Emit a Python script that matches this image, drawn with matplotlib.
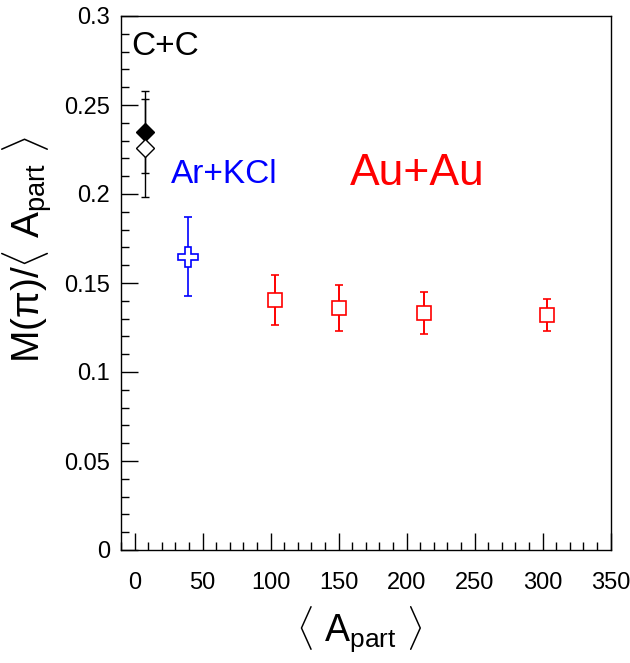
import matplotlib
matplotlib.use("Agg")
import matplotlib.pyplot as plt
from matplotlib.ticker import MultipleLocator, FixedLocator

plt.rcParams['font.family'] = ['Liberation Sans', 'DejaVu Sans']
plt.rcParams['mathtext.fontset'] = 'custom'
plt.rcParams['mathtext.rm'] = 'Liberation Sans'
plt.rcParams['mathtext.it'] = 'Liberation Sans:italic'
plt.rcParams['mathtext.sf'] = 'Liberation Sans'

# ---- data ----
cc_x = [8.0]
cc_filled_y = [0.235]
cc_filled_err = [0.023]
cc_open_y = [0.226]
cc_open_err = [0.0275]

ar_x = [39.0]
ar_y = [0.1648]
ar_err = [0.0223]

au_x = [103.0, 150.0, 213.0, 303.0]
au_y = [0.1403, 0.1361, 0.1331, 0.1322]
au_err = [0.0140, 0.0128, 0.0117, 0.0090]

x_ticks = [0, 50, 100, 150, 200, 250, 300, 350]
y_ticks = [0, 0.05, 0.1, 0.15, 0.2, 0.25, 0.3]
y_tick_labels = ['0', '0.05', '0.1', '0.15', '0.2', '0.25', '0.3']

fig = plt.figure(figsize=(6.30, 6.63), dpi=100)
ax = fig.add_axes([121/630, 1 - 550/663, (610.7 - 121)/630, (550 - 16)/663])

ax.errorbar(cc_x, cc_filled_y, yerr=cc_filled_err, fmt='D', color='black',
            markersize=9, markerfacecolor='black', markeredgecolor='black',
            elinewidth=1.0, capsize=3, capthick=1.0, zorder=3)
ax.errorbar(cc_x, cc_open_y, yerr=cc_open_err, fmt='D', color='black',
            markersize=9, markerfacecolor='white', markeredgecolor='black',
            markeredgewidth=1.0, elinewidth=1.0, capsize=3, capthick=1.0, zorder=4)
ax.errorbar(ar_x, ar_y, yerr=ar_err, fmt='P', color='blue',
            markersize=14, markerfacecolor='white', markeredgecolor='blue',
            markeredgewidth=1.2, elinewidth=1.2, capsize=3, capthick=1.2, zorder=3)
ax.errorbar(au_x, au_y, yerr=au_err, fmt='s', color='red',
            markersize=10, markerfacecolor='white', markeredgecolor='red',
            markeredgewidth=1.2, elinewidth=1.4, capsize=3, capthick=1.4, zorder=3)

ax.set_xlim(-10, 350)
ax.set_ylim(0, 0.3)
ax.xaxis.set_major_locator(FixedLocator(x_ticks))
ax.xaxis.set_minor_locator(MultipleLocator(10))
ax.yaxis.set_major_locator(FixedLocator(y_ticks))
ax.set_yticklabels(y_tick_labels)
ax.yaxis.set_minor_locator(MultipleLocator(0.01))

ax.tick_params(which='both', direction='in', top=False, right=False, width=1.0, colors='black')
ax.tick_params(which='major', length=12)
ax.tick_params(which='minor', length=6)
ax.tick_params(axis='x', which='major', labelsize=17, pad=16)
ax.tick_params(axis='y', which='major', labelsize=17, pad=8)
for s in ax.spines.values():
    s.set_linewidth(1.0)

ax.text(-2.6, 0.278, 'C+C', fontsize=24, color='black', ha='left', va='baseline')
ax.text(26.5, 0.206, 'Ar+KCl', fontsize=24, color='blue', ha='left', va='baseline')
ax.text(158, 0.205, 'Au+Au', fontsize=32, color='red', ha='left', va='baseline')

fig.text(359/630, 1 - 630/663, r'$\langle$ A$_{\mathrm{part}}$ $\rangle$', fontsize=27,
         ha='center', va='center')
fig.text(28/630, 1 - 250/663, r'M(π)/$\langle$ A$_{\mathrm{part}}$ $\rangle$', fontsize=28,
         ha='center', va='center', rotation=90)

fig.savefig('out.png', dpi=100)
